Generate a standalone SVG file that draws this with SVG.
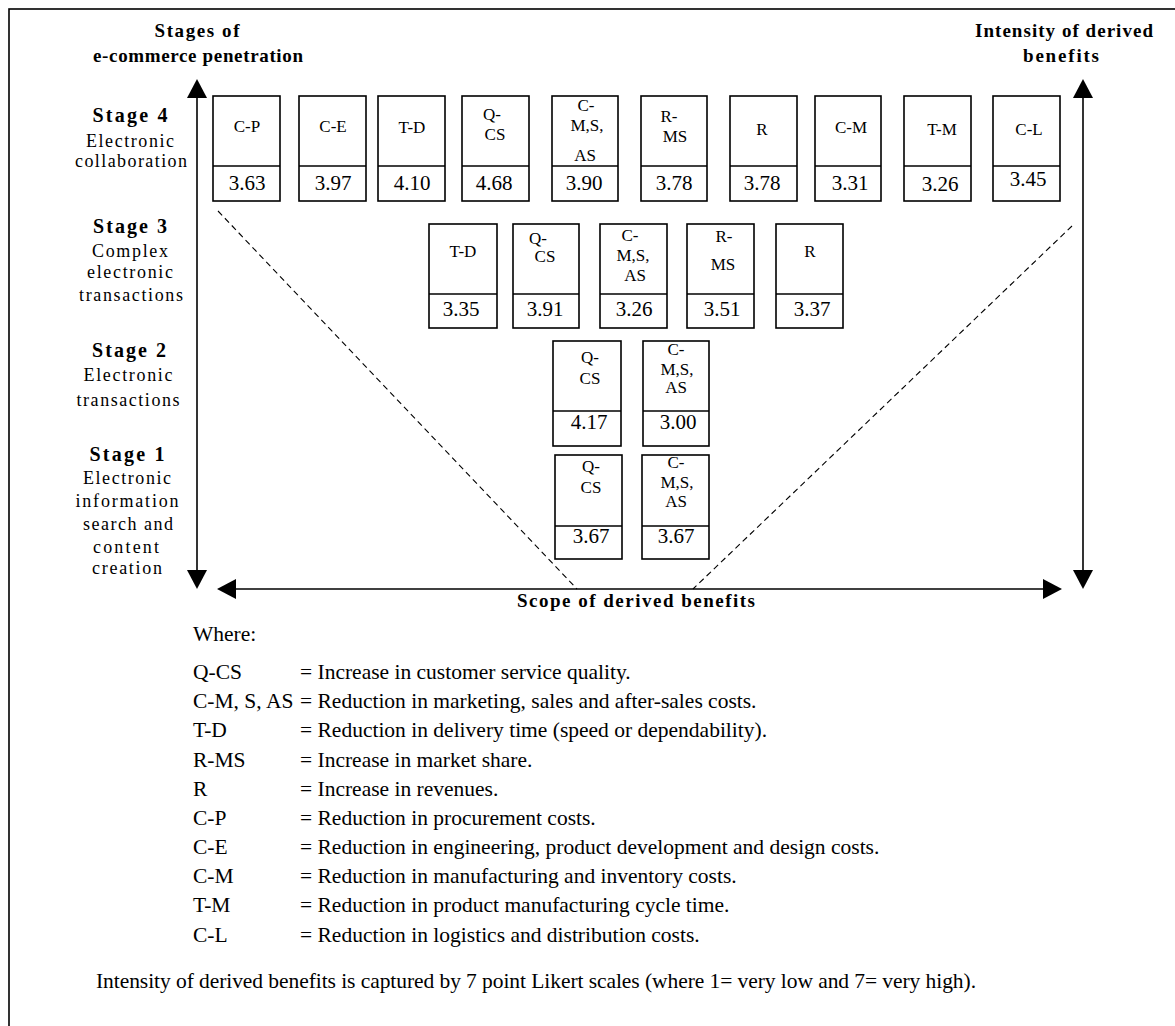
<svg xmlns="http://www.w3.org/2000/svg" width="1175" height="1026" viewBox="0 0 1175 1026">
<style>
text{font-family:"Liberation Serif","Times New Roman",serif;fill:#000}
.b{font-weight:bold}
.t{font-size:19px}
.st{font-size:20px}
.sl{font-size:18px}
.m{text-anchor:middle}
.lbl{font-size:17px;text-anchor:middle}
.val{font-size:21px;text-anchor:middle}
.leg{font-size:21.5px}
.box{fill:#fff;stroke:#000;stroke-width:1.6}
.div{stroke:#000;stroke-width:1.6}
.axis{stroke:#000;stroke-width:1.6;fill:none}
.dash{stroke:#000;stroke-width:1.1;stroke-dasharray:6 4;fill:none}
</style>
<defs>
<marker id="ah" markerUnits="userSpaceOnUse" markerWidth="20" markerHeight="22" refX="0" refY="10" orient="auto-start-reverse">
<path d="M0,0 L19,10 L0,20 z" fill="#000"/>
</marker>
</defs>
<rect width="1175" height="1026" fill="#fff"/>
<rect x="9" y="9" width="1180" height="1040" fill="none" stroke="#000" stroke-width="1.6"/>

<g id="titles">
<text class="b t m" x="197" y="37" textLength="85" lengthAdjust="spacing">Stages of</text>
<text class="b t m" x="198" y="62" textLength="210" lengthAdjust="spacing">e-commerce penetration</text>
<text class="b t m" x="1064" y="37" textLength="178" lengthAdjust="spacing">Intensity of derived</text>
<text class="b t m" x="1061" y="62" textLength="76" lengthAdjust="spacing">benefits</text>
<text class="b t m" x="636" y="607" textLength="238" lengthAdjust="spacing">Scope of derived benefits</text>
</g>

<g id="stage-labels">
<text class="b st m" x="130" y="122" textLength="75" lengthAdjust="spacing">Stage 4</text>
<text class="sl m" x="130" y="147" textLength="88" lengthAdjust="spacing">Electronic</text>
<text class="sl m" x="131" y="167" textLength="112" lengthAdjust="spacing">collaboration</text>
<text class="b st m" x="130" y="233" textLength="74" lengthAdjust="spacing">Stage 3</text>
<text class="sl m" x="130" y="257" textLength="76" lengthAdjust="spacing">Complex</text>
<text class="sl m" x="130" y="278" textLength="86" lengthAdjust="spacing">electronic</text>
<text class="sl m" x="131" y="301" textLength="104" lengthAdjust="spacing">transactions</text>
<text class="b st m" x="129" y="357" textLength="74" lengthAdjust="spacing">Stage 2</text>
<text class="sl m" x="128" y="381" textLength="89" lengthAdjust="spacing">Electronic</text>
<text class="sl m" x="128" y="406" textLength="103" lengthAdjust="spacing">transactions</text>
<text class="b st m" x="127" y="461" textLength="75" lengthAdjust="spacing">Stage 1</text>
<text class="sl m" x="127" y="484" textLength="88" lengthAdjust="spacing">Electronic</text>
<text class="sl m" x="127" y="507" textLength="103" lengthAdjust="spacing">information</text>
<text class="sl m" x="128" y="530" textLength="90" lengthAdjust="spacing">search and</text>
<text class="sl m" x="126" y="553" textLength="66" lengthAdjust="spacing">content</text>
<text class="sl m" x="127" y="574" textLength="70" lengthAdjust="spacing">creation</text>
</g>

<g id="connectors">
<line class="axis" x1="197" y1="570" x2="197" y2="98" marker-start="url(#ah)" marker-end="url(#ah)"/>
<line class="axis" x1="1083" y1="570" x2="1083" y2="98" marker-start="url(#ah)" marker-end="url(#ah)"/>
<line class="axis" x1="236" y1="589" x2="1043" y2="589" marker-start="url(#ah)" marker-end="url(#ah)"/>
<line class="dash" x1="218" y1="211" x2="577" y2="589"/>
<line class="dash" x1="1072" y1="226" x2="693" y2="589"/>
</g>

<!-- Stage 4 -->
<g id="s4-cp"><rect class="box" x="213" y="96" width="67" height="105"/><line class="div" x1="213" y1="166" x2="280" y2="166"/><text class="lbl" x="247" y="132">C-P</text><text class="val" x="247" y="190">3.63</text></g>
<g id="s4-ce"><rect class="box" x="299" y="96" width="67" height="105"/><line class="div" x1="299" y1="166" x2="366" y2="166"/><text class="lbl" x="333" y="132">C-E</text><text class="val" x="333" y="190">3.97</text></g>
<g id="s4-td"><rect class="box" x="378" y="96" width="67" height="105"/><line class="div" x1="378" y1="166" x2="445" y2="166"/><text class="lbl" x="412" y="133">T-D</text><text class="val" x="412" y="190">4.10</text></g>
<g id="s4-qcs"><rect class="box" x="462" y="96" width="67" height="105"/><line class="div" x1="462" y1="166" x2="529" y2="166"/><text class="lbl" x="492" y="120">Q-</text><text class="lbl" x="495" y="140">CS</text><text class="val" x="494" y="190">4.68</text></g>
<g id="s4-cmsas"><rect class="box" x="552" y="96" width="66" height="105"/><line class="div" x1="552" y1="166" x2="618" y2="166"/><text class="lbl" x="586" y="111">C-</text><text class="lbl" x="587" y="131">M,S,</text><text class="lbl" x="585" y="161">AS</text><text class="val" x="584" y="190">3.90</text></g>
<g id="s4-rms"><rect class="box" x="641" y="96" width="66" height="105"/><line class="div" x1="641" y1="166" x2="707" y2="166"/><text class="lbl" x="669" y="122">R-</text><text class="lbl" x="675" y="142">MS</text><text class="val" x="674" y="190">3.78</text></g>
<g id="s4-r"><rect class="box" x="730" y="96" width="67" height="105"/><line class="div" x1="730" y1="166" x2="797" y2="166"/><text class="lbl" x="762" y="135">R</text><text class="val" x="762" y="190">3.78</text></g>
<g id="s4-cm"><rect class="box" x="815" y="96" width="66" height="105"/><line class="div" x1="815" y1="166" x2="881" y2="166"/><text class="lbl" x="851" y="133">C-M</text><text class="val" x="850" y="190">3.31</text></g>
<g id="s4-tm"><rect class="box" x="904" y="96" width="67" height="105"/><line class="div" x1="904" y1="166" x2="971" y2="166"/><text class="lbl" x="942" y="135">T-M</text><text class="val" x="940" y="191">3.26</text></g>
<g id="s4-cl"><rect class="box" x="993" y="96" width="67" height="105"/><line class="div" x1="993" y1="166" x2="1060" y2="166"/><text class="lbl" x="1029" y="135">C-L</text><text class="val" x="1028" y="186">3.45</text></g>

<!-- Stage 3 -->
<g id="s3-td"><rect class="box" x="429" y="224" width="68" height="104"/><line class="div" x1="429" y1="294" x2="497" y2="294"/><text class="lbl" x="463" y="257">T-D</text><text class="val" x="461" y="316">3.35</text></g>
<g id="s3-qcs"><rect class="box" x="513" y="224" width="66" height="104"/><line class="div" x1="513" y1="294" x2="579" y2="294"/><text class="lbl" x="538" y="244">Q-</text><text class="lbl" x="545" y="262">CS</text><text class="val" x="545" y="316">3.91</text></g>
<g id="s3-cmsas"><rect class="box" x="600" y="224" width="67" height="104"/><line class="div" x1="600" y1="294" x2="667" y2="294"/><text class="lbl" x="630" y="241">C-</text><text class="lbl" x="633" y="261">M,S,</text><text class="lbl" x="635" y="281">AS</text><text class="val" x="634" y="316">3.26</text></g>
<g id="s3-rms"><rect class="box" x="687" y="224" width="67" height="104"/><line class="div" x1="687" y1="294" x2="754" y2="294"/><text class="lbl" x="724" y="242">R-</text><text class="lbl" x="723" y="270">MS</text><text class="val" x="722" y="316">3.51</text></g>
<g id="s3-r"><rect class="box" x="776" y="224" width="67" height="104"/><line class="div" x1="776" y1="294" x2="843" y2="294"/><text class="lbl" x="810" y="257">R</text><text class="val" x="812" y="316">3.37</text></g>

<!-- Stage 2 -->
<g id="s2-qcs"><rect class="box" x="553" y="341" width="68" height="105"/><line class="div" x1="553" y1="411" x2="621" y2="411"/><text class="lbl" x="590" y="363">Q-</text><text class="lbl" x="590" y="384">CS</text><text class="val" x="589" y="429">4.17</text></g>
<g id="s2-cmsas"><rect class="box" x="643" y="341" width="66" height="105"/><line class="div" x1="643" y1="411" x2="709" y2="411"/><text class="lbl" x="676" y="355">C-</text><text class="lbl" x="677" y="375">M,S,</text><text class="lbl" x="676" y="393">AS</text><text class="val" x="678" y="429">3.00</text></g>

<!-- Stage 1 -->
<g id="s1-qcs"><rect class="box" x="555" y="455" width="67" height="104"/><line class="div" x1="555" y1="526" x2="622" y2="526"/><text class="lbl" x="591" y="472">Q-</text><text class="lbl" x="591" y="493">CS</text><text class="val" x="591" y="543">3.67</text></g>
<g id="s1-cmsas"><rect class="box" x="642" y="455" width="67" height="104"/><line class="div" x1="642" y1="526" x2="709" y2="526"/><text class="lbl" x="676" y="468">C-</text><text class="lbl" x="677" y="488">M,S,</text><text class="lbl" x="676" y="507">AS</text><text class="val" x="676" y="543">3.67</text></g>

<g id="legend">
<text class="leg" x="193" y="641">Where:</text>
<text class="leg" x="193" y="679">Q-CS</text><text class="leg" x="300" y="679">= Increase in customer service quality.</text>
<text class="leg" x="193" y="708">C-M, S, AS</text><text class="leg" x="300" y="708">= Reduction in marketing, sales and after-sales costs.</text>
<text class="leg" x="193" y="737">T-D</text><text class="leg" x="300" y="737">= Reduction in delivery time (speed or dependability).</text>
<text class="leg" x="193" y="767">R-MS</text><text class="leg" x="300" y="767">= Increase in market share.</text>
<text class="leg" x="193" y="796">R</text><text class="leg" x="300" y="796">= Increase in revenues.</text>
<text class="leg" x="193" y="825">C-P</text><text class="leg" x="300" y="825">= Reduction in procurement costs.</text>
<text class="leg" x="193" y="854">C-E</text><text class="leg" x="300" y="854">= Reduction in engineering, product development and design costs.</text>
<text class="leg" x="193" y="883">C-M</text><text class="leg" x="300" y="883">= Reduction in manufacturing and inventory costs.</text>
<text class="leg" x="193" y="912">T-M</text><text class="leg" x="300" y="912">= Reduction in product manufacturing cycle time.</text>
<text class="leg" x="193" y="942">C-L</text><text class="leg" x="300" y="942">= Reduction in logistics and distribution costs.</text>
<text class="leg" x="96" y="988" textLength="880" lengthAdjust="spacing">Intensity of derived benefits is captured by 7 point Likert scales (where 1= very low and 7= very high).</text>
</g>
</svg>
